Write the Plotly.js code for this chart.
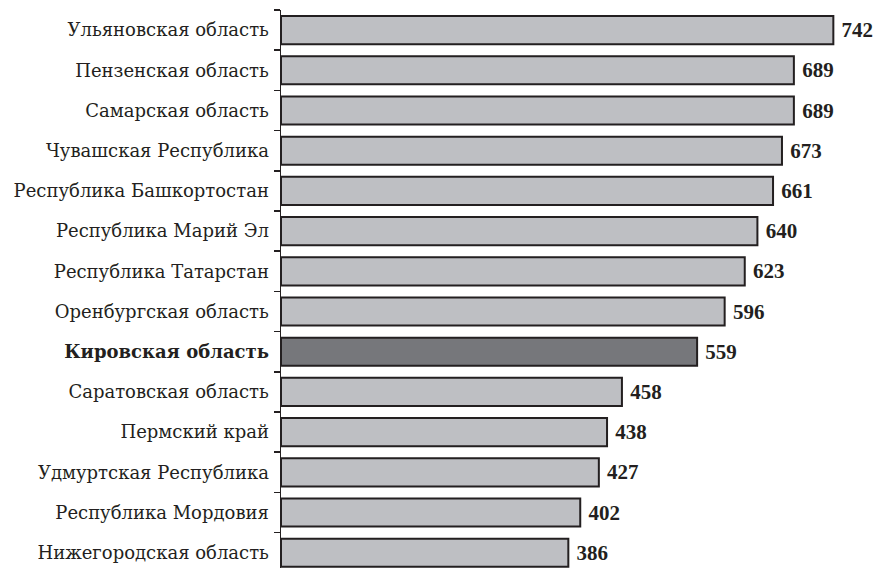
<!DOCTYPE html>
<html><head><meta charset="utf-8">
<script src="https://cdn.plot.ly/plotly-3.0.1.min.js"></script>
<style>html,body{margin:0;padding:0;background:#fff}#chart{width:878px;height:568px}</style>
</head><body><div id="chart"></div>
<script>
const regions = ["Ульяновская область","Пензенская область","Самарская область","Чувашская Республика","Республика Башкортостан","Республика Марий Эл","Республика Татарстан","Оренбургская область","Кировская область","Саратовская область","Пермский край","Удмуртская Республика","Республика Мордовия","Нижегородская область"];
const values = [742,689,689,673,661,640,623,596,559,458,438,427,402,386];
const highlight = "Кировская область";
const baseColor = "#bebfc3";
const highlightColor = "#76777b";

const yLabels = regions.map(r => r === highlight ? "<b>" + r + "</b>" : r);
const colors = regions.map(r => r === highlight ? highlightColor : baseColor);

const trace = {
  type: "bar", orientation: "h",
  x: values, y: yLabels,
  marker: {color: colors, line: {color: "#231f20", width: 2}},
  text: values.map(v => "\u00a0" + v), textposition: "outside", cliponaxis: false,
  constraintext: "none",
  textfont: {family: "Liberation Serif", size: 21, color: "#231f20", weight: "bold"},
  hoverinfo: "none"
};
const layout = {
  width: 878, height: 568,
  margin: {l: 281, r: 0, t: 10, b: 0},
  paper_bgcolor: "#fff", plot_bgcolor: "#fff",
  bargap: 0.3, showlegend: false,
  font: {family: "DejaVu Serif", color: "#231f20"},
  xaxis: {range: [0, 802], showgrid: false, zeroline: false, showticklabels: false, ticks: "", showline: false},
  yaxis: {type: "category", range: [13.38, -0.5], showgrid: false, zeroline: false,
    showline: true, linecolor: "#231f20", linewidth: 1.5,
    ticks: "outside", ticklen: 6, tickwidth: 1.5, tickcolor: "#231f20", tickson: "boundaries",
    tickfont: {family: "DejaVu Serif", size: 18, color: "#231f20"}, ticklabelstandoff: 7}
};
Plotly.newPlot("chart", [trace], layout, {staticPlot: true});
</script></body></html>
